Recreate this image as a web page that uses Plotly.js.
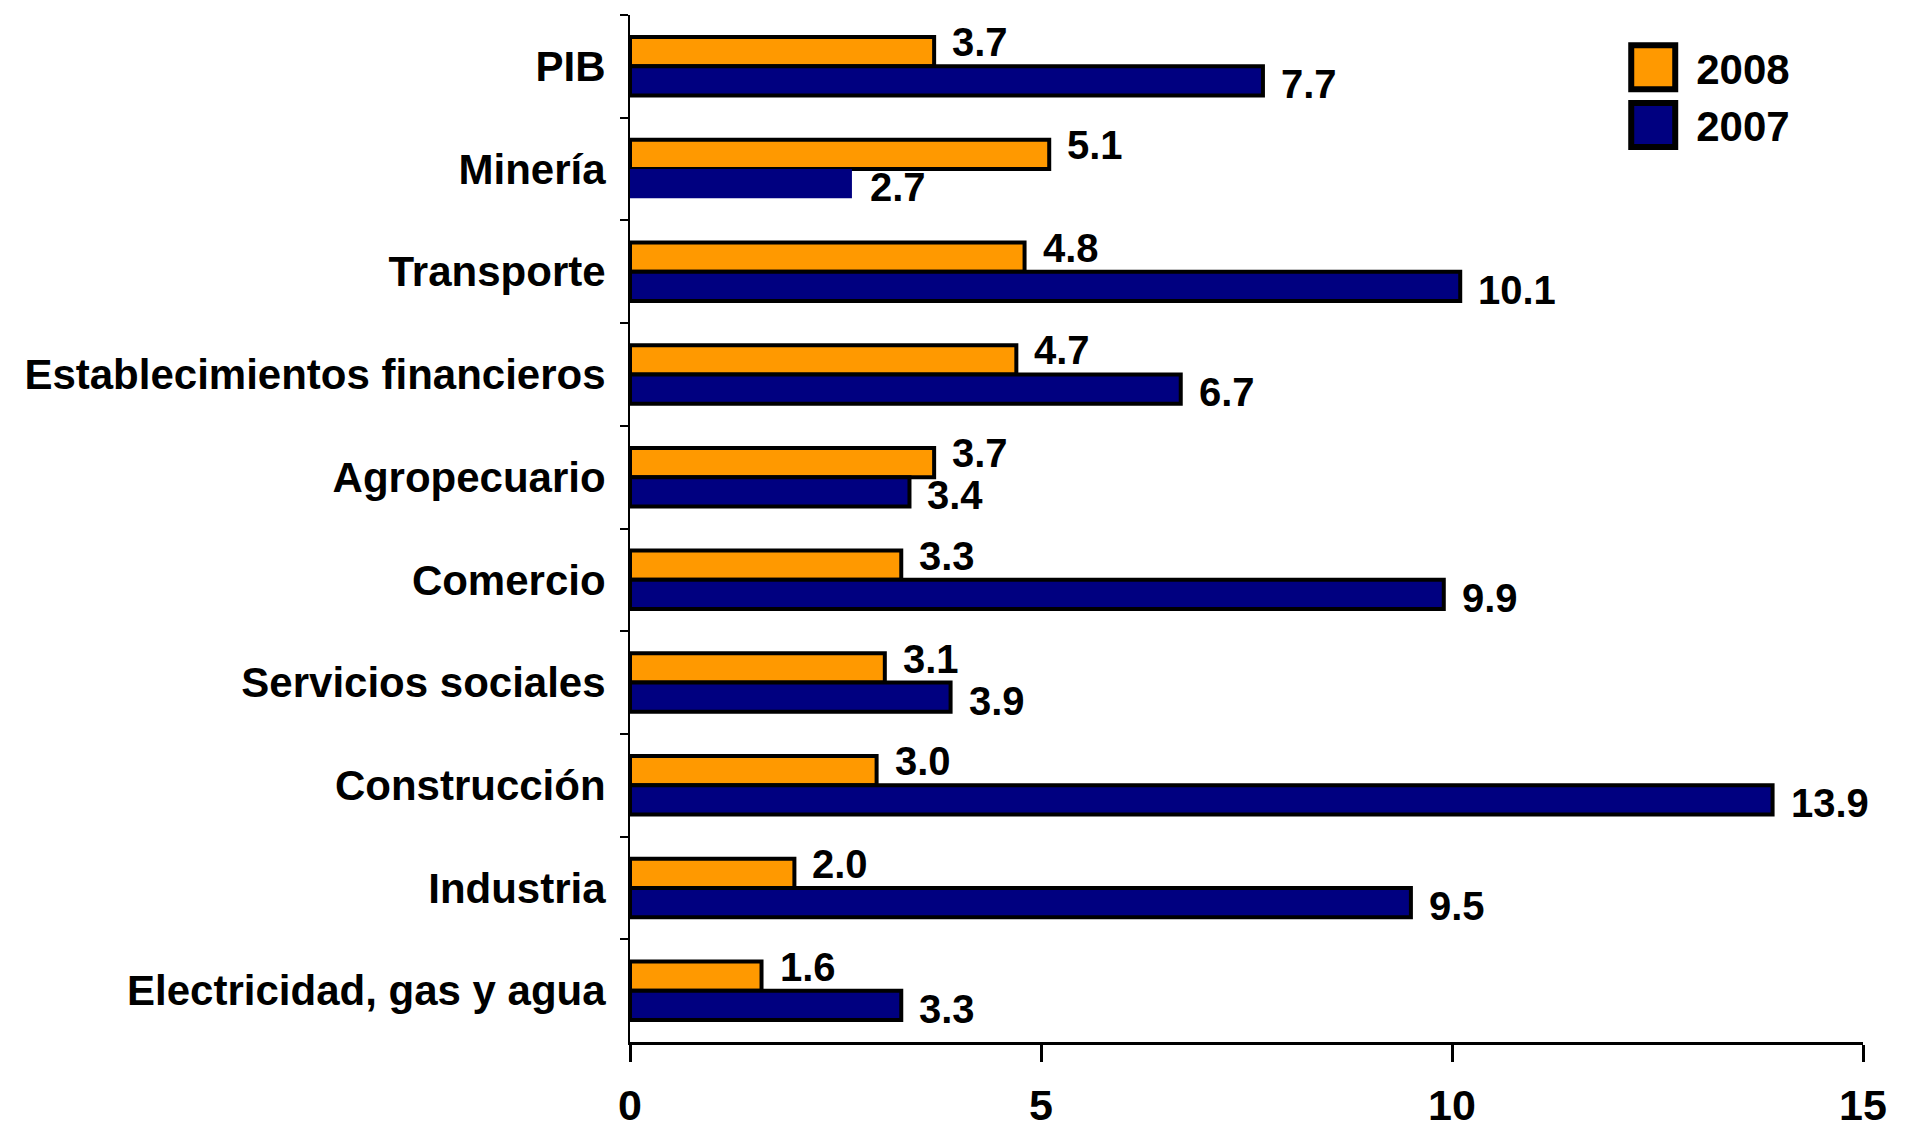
<!DOCTYPE html>
<html>
<head>
<meta charset="utf-8">
<script src="https://cdn.plot.ly/plotly-3.0.1.min.js"></script>
<style>html,body{margin:0;padding:0;background:#fff;}#chart{width:1906px;height:1130px;}</style>
</head>
<body>
<div id="chart"></div>
<script>
const categories = ['PIB','Minería','Transporte','Establecimientos financieros','Agropecuario','Comercio','Servicios sociales','Construcción','Industria','Electricidad, gas y agua'];
const values2008 = [3.7,5.1,4.8,4.7,3.7,3.3,3.1,3.0,2.0,1.6];
const values2007 = [7.7,2.7,10.1,6.7,3.4,9.9,3.9,13.9,9.5,3.3];
const seriesNames = ['2008','2007'];
const xTicks = [0,5,10,15];

const FONT = 'Liberation Sans, Arial, sans-serif';
const ORANGE = '#FF9900';
const NAVY = '#000080';

const trace2008 = {
  type: 'bar', orientation: 'h', name: seriesNames[0],
  y: categories, x: values2008,
  marker: {color: ORANGE, line: {color: '#000', width: 4}},
  hoverinfo: 'x+y'
};
const trace2007 = {
  type: 'bar', orientation: 'h', name: seriesNames[1],
  y: categories, x: values2007,
  marker: {color: NAVY, line: {color: '#000', width: categories.map(c => c === 'Minería' ? 0 : 4)}},
  hoverinfo: 'x+y'
};

const annotations = [];
categories.forEach((c, i) => {
  annotations.push({x: values2008[i], y: c, text: values2008[i].toFixed(1), showarrow: false,
    xanchor: 'left', yanchor: 'middle', xshift: 16, yshift: 24,
    font: {family: FONT, size: 40, color: '#000', weight: 'bold'}});
  annotations.push({x: values2007[i], y: c, text: values2007[i].toFixed(1), showarrow: false,
    xanchor: 'left', yanchor: 'middle', xshift: 16, yshift: -18,
    font: {family: FONT, size: 40, color: '#000', weight: 'bold'}});
});

const layout = {
  width: 1906, height: 1130,
  paper_bgcolor: '#fff', plot_bgcolor: '#fff',
  margin: {l: 630, r: 43, t: 15, b: 88},
  barmode: 'group', bargap: 0.43, bargroupgap: 0,
  font: {family: FONT, color: '#000', weight: 'bold'},
  showlegend: true,
  legend: {x: 0.795, y: 0.982, xanchor: 'left', yanchor: 'top', bgcolor: 'rgba(0,0,0,0)',
    font: {family: FONT, size: 42, color: '#000', weight: 'bold'}, itemwidth: 76, traceorder: 'normal'},
  xaxis: {range: [0, 15], tickvals: xTicks, ticktext: xTicks.map(String),
    showgrid: false, zeroline: false, showline: true, linecolor: '#000', linewidth: 3,
    ticks: 'outside', ticklen: 17, tickwidth: 3, tickcolor: '#000', ticklabelstandoff: 6,
    tickfont: {family: FONT, size: 43, color: '#000', weight: 'bold'}, fixedrange: true},
  yaxis: {autorange: 'reversed', type: 'category', showgrid: false, zeroline: false,
    showline: true, linecolor: '#000', linewidth: 2,
    ticks: 'outside', tickson: 'boundaries', ticklen: 8, tickwidth: 2, tickcolor: '#000',
    ticklabelstandoff: 14,
    tickfont: {family: FONT, size: 42, color: '#000', weight: 'bold'}, fixedrange: true},
  annotations: annotations
};

Plotly.newPlot('chart', [trace2008, trace2007], layout, {displayModeBar: false, staticPlot: true}).then(() => {
  document.querySelectorAll('#chart .legend .legendpoints path').forEach(p => {
    p.setAttribute('d', 'M22,22H-22V-22H22Z');
    p.style.strokeWidth = '6px';
  });
});
</script>
</body>
</html>
